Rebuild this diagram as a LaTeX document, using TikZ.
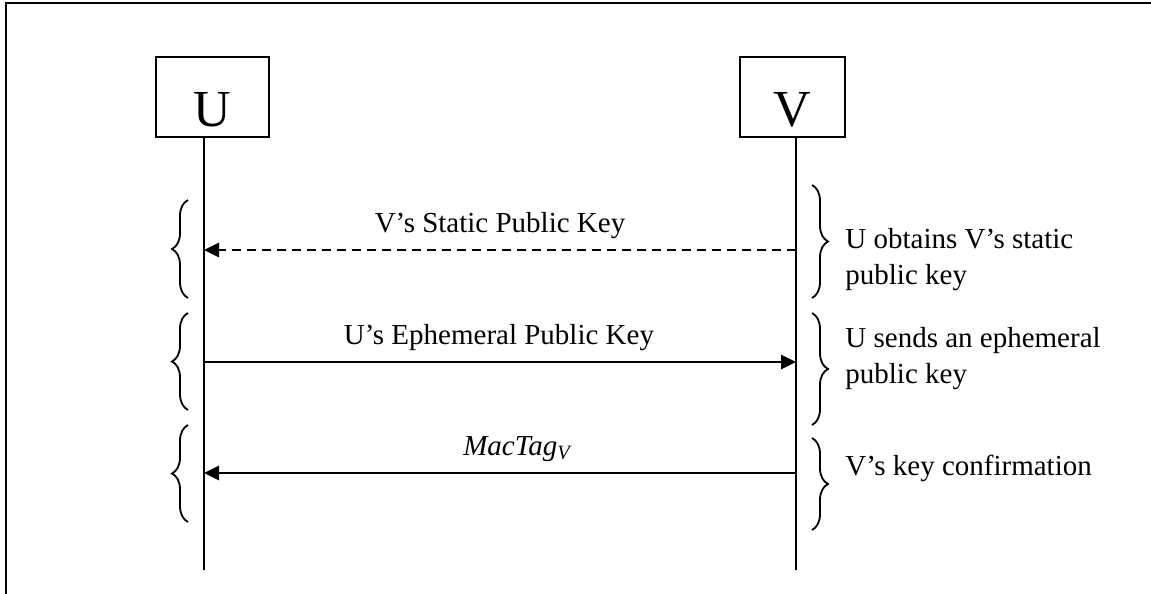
\documentclass[tikz,border=0pt]{standalone}
\usepackage{fontspec}
\setmainfont{Liberation Serif}
\usetikzlibrary{arrows.meta,decorations.pathreplacing}
\begin{document}
\begin{tikzpicture}[x=0.5pt,y=-0.5pt,
  actor/.style={draw,line width=1pt,minimum height=40pt,inner sep=0pt,text height=29pt,text depth=0pt,font=\fontsize{26}{30}\selectfont},
  life/.style={line width=1pt},
  lbl/.style={font=\fontsize{14.5}{18}\selectfont,inner sep=0pt},
  note/.style={font=\fontsize{14.5}{18}\selectfont,inner sep=0pt,align=left,anchor=base west},
  msg/.style={line width=1pt,-{Triangle[length=7.5pt,width=7.2pt]}},
  brc/.style={decorate,decoration={brace,amplitude=8pt},line width=0.9pt},
]
\useasboundingbox (0,0) rectangle (1151,594);
\draw[line width=1.2pt] (6,600) -- (6,3) -- (1160,3);
% actors
\node[actor,minimum width=56.5pt] (U) at (212,97) {U};
\node[actor,minimum width=52.5pt] (V) at (792.5,97) {V};
\coordinate (Ubot) at (204,570);
\coordinate (Vbot) at (796,570);
\draw[life] (U.south -| Ubot) -- (Ubot);
\draw[life] (V.south -| Vbot) -- (Vbot);
% message end points
\coordinate (u1) at (204,250); \coordinate (v1) at (796,250);
\coordinate (u2) at (204,362); \coordinate (v2) at (796,362);
\coordinate (u3) at (204,473); \coordinate (v3) at (796,473);
\draw[msg,dash pattern=on 4.5pt off 3pt] (v1) -- (u1);
\draw[msg] (u2) -- (v2);
\draw[msg] (v3) -- (u3);
\node[lbl,anchor=base] (m1) at (500,232) {V’s Static Public Key};
\node[lbl,anchor=base] (m2) at (499,344) {U’s Ephemeral Public Key};
\node[lbl,anchor=base] (m3) at (518,455) {\textit{MacTag}\textsubscript{\textit{V}}};
% left braces
\draw[brc] (188,298) -- (188,200);
\draw[brc] (188,410) -- (188,313);
\draw[brc] (188,522) -- (188,425);
% right braces
\draw[brc] (812,185) -- (812,298);
\draw[brc] (812,313) -- (812,425);
\draw[brc] (812,438) -- (812,530);
% notes (base = baseline of the last line)
\node[note] (n1) at (845,284) {U obtains V’s static\\public key};
\node[note] (n2) at (845,383) {U sends an ephemeral\\public key};
\node[note] (n3) at (845,475) {V’s key confirmation};
\end{tikzpicture}
\end{document}
